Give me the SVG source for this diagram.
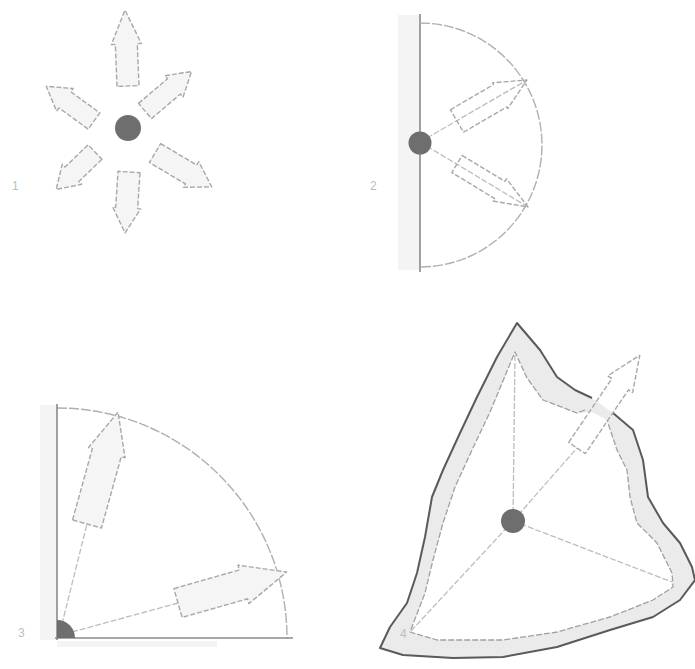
<svg xmlns="http://www.w3.org/2000/svg" width="695" height="669" viewBox="0 0 695 669">
<style>
.arr{fill:#f5f5f5;stroke:#a8a8a8;stroke-width:1.4;stroke-dasharray:5 2;stroke-linejoin:round}
.ray{stroke:#bdbdbd;stroke-width:1.3;stroke-dasharray:6 2;fill:none}
.dot{fill:#6e6e6e}
.axis{stroke:#8a8a8a;stroke-width:1.6;fill:none}
.arc{stroke:#b0b0b0;stroke-width:1.4;fill:none;stroke-dasharray:10 2}
.lbl{font-family:"Liberation Sans",Arial,sans-serif;font-size:12px;fill:#bdbdbd}
.band{fill:#f4f4f4}
</style>
<rect width="695" height="669" fill="#ffffff"/>

<g id="panel1">
  <g id="p1-arrows">
    <polygon class="arr" transform="translate(128,86) rotate(-92.3)" points="0,-11 42,-11 42,-15 76,0 42,15 42,11 0,11"/>
    <polygon class="arr" transform="translate(145,111) rotate(-40.3)" points="0,-10 38,-10 38,-14 61,0 38,14 38,10 0,10"/>
    <polygon class="arr" transform="translate(94,121) rotate(-144)" points="0,-10 36,-10 36,-14 59,0 36,14 36,10 0,10"/>
    <polygon class="arr" transform="translate(95,152) rotate(136)" points="0,-10 32,-10 32,-14 54,0 32,14 32,10 0,10"/>
    <polygon class="arr" transform="translate(129,172) rotate(93.7)" points="0,-11 36,-11 36,-14 61,0 36,14 36,11 0,11"/>
    <polygon class="arr" transform="translate(155,153) rotate(30.8)" points="0,-11 42,-11 42,-15 66,0 42,15 42,11 0,11"/>
  </g>
  <circle id="p1-dot" class="dot" cx="128" cy="128" r="13"/>
  <text class="lbl" x="12" y="190">1</text>
</g>

<g id="panel2">
  <rect class="band" x="398" y="15" width="22" height="255"/>
  <line class="axis" x1="420" y1="14" x2="420" y2="272"/>
  <path class="arc" d="M420,23 A122,122 0 0 1 420,267"/>
  <g id="p2-connectors">
    <line class="ray" x1="420" y1="142" x2="527" y2="80"/>
    <line class="ray" x1="420" y1="142" x2="528" y2="207"/>
  </g>
  <polygon class="arr" style="fill:none" transform="translate(457,121) rotate(-30.4)" points="0,-13 50,-13 50,-15 81,0 50,15 50,13 0,13"/>
  <polygon class="arr" style="fill:none" transform="translate(457,164) rotate(31.2)" points="0,-10 50,-10 50,-13 83,0 50,13 50,10 0,10"/>
  <circle id="p2-dot" class="dot" cx="420" cy="143" r="11.5"/>
  <text class="lbl" x="370" y="190">2</text>
</g>

<g id="panel3">
  <rect class="band" x="40" y="405" width="17" height="235"/>
  <rect class="band" x="57" y="641" width="160" height="6"/>
  <path class="arc" d="M57,408 A230,230 0 0 1 287,638"/>
  <line class="axis" x1="57" y1="404" x2="57" y2="640"/>
  <line class="axis" x1="55" y1="638" x2="293" y2="638"/>
  <g id="p3-connectors">
    <line class="ray" x1="60" y1="632" x2="87" y2="524"/>
    <line class="ray" x1="72" y1="632" x2="178" y2="603"/>
  </g>
  <polygon class="arr" transform="translate(87,524) rotate(-74.5)" points="0,-15 74,-15 74,-19 116,0 74,19 74,15 0,15"/>
  <polygon class="arr" transform="translate(178,603) rotate(-15.9)" points="0,-15 68,-15 68,-20 113,0 68,20 68,15 0,15"/>
  <path class="dot" d="M57,638 L57,620 A18,18 0 0 1 75,638 Z"/>
  <text class="lbl" x="18" y="637">3</text>
</g>

<g id="panel4">
  <polygon fill="#ebebeb" points="517,323 540,350 557,377 575,390 592,398 613,413 633,430 643,460 648,497 663,523 680,543 692,567 695,580 680,600 653,617 610,630 557,647 503,657 453,658 403,655 380,648 390,627 407,603 417,573 425,537 432,497 443,470 460,433 477,397 497,357"/>
  <polygon fill="#ffffff" points="515,352 527,378 543,400 577,413 592,412 607,420 617,450 627,470 630,497 637,523 657,543 672,573 673,587 653,600 610,617 557,632 503,640 437,640 410,632 425,593 433,560 443,523 455,487 472,450 490,412"/>
  <polyline fill="none" stroke="#5a5a5a" stroke-width="2" stroke-linejoin="round" points="592,398 575,390 557,377 540,350 517,323 497,357 477,397 460,433 443,470 432,497 425,537 417,573 407,603 390,627 380,648 403,655 453,658 503,657 557,647 610,630 653,617 680,600 695,580 692,567 680,543 663,523 648,497 643,460 633,430 613,413"/>
  <polyline fill="none" stroke="#a0a0a0" stroke-width="1.3" stroke-dasharray="6 2" stroke-linejoin="round" points="585,410 577,413 543,400 527,378 515,352 490,412 472,450 455,487 443,523 433,560 425,593 410,632 437,640 503,640 557,632 610,617 653,600 673,587 672,573 657,543 637,523 630,497 627,470 617,450 607,420"/>
  <g id="p4-connectors">
    <line class="ray" x1="513" y1="521" x2="515" y2="354"/>
    <line class="ray" x1="513" y1="521" x2="410" y2="632"/>
    <line class="ray" x1="513" y1="521" x2="672" y2="582"/>
    <line class="ray" x1="513" y1="521" x2="577" y2="448"/>
  </g>
  <polygon class="arr" style="fill:none" transform="translate(577,448) rotate(-55.9)" points="0,-10 77,-10 77,-15 112,0 77,15 77,10 0,10"/>
  <circle id="p4-dot" class="dot" cx="513" cy="521" r="12"/>
  <text class="lbl" x="400" y="638">4</text>
</g>
</svg>
